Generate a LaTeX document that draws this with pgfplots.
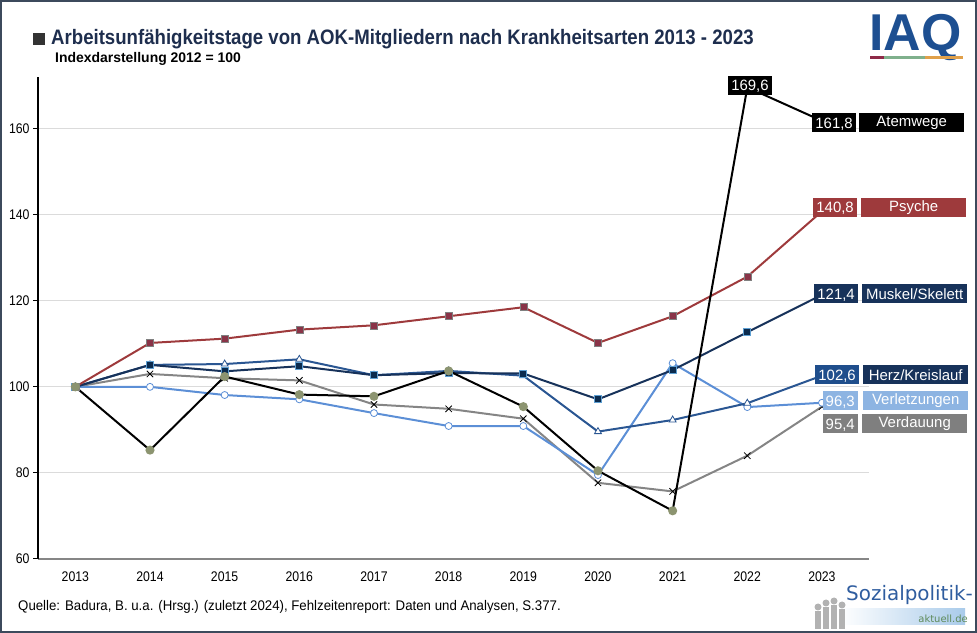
\documentclass[border=0pt]{standalone}
\usepackage{fontspec}
\setmainfont{Liberation Sans}
\newfontfamily\narrowfont[FakeStretch=0.88]{Liberation Sans}
\newfontfamily\srcfont[FakeStretch=0.95]{Liberation Sans}
\newfontfamily\titlefont[FakeStretch=0.89]{Liberation Sans}
\newfontfamily\logofont{DejaVu Sans}
\usepackage{pgfplots}
\pgfplotsset{compat=1.18}
\definecolor{cAtem}{HTML}{000000}
\definecolor{cAtemMk}{HTML}{8C9470}
\definecolor{cPsy}{HTML}{9E3A3C}
\definecolor{cPsyMk}{HTML}{8A3448}
\definecolor{cMus}{HTML}{17325A}
\definecolor{cMusMk}{HTML}{0B2B4E}
\definecolor{cMusBd}{HTML}{5E9FD2}
\definecolor{cHerz}{HTML}{2A5692}
\definecolor{cHerzBox}{HTML}{1F4E8C}
\definecolor{cVerl}{HTML}{5C8FD6}
\definecolor{cVerlBox}{HTML}{8DB4E2}
\definecolor{cVerd}{HTML}{858585}
\definecolor{cVerdBox}{HTML}{7F7F7F}
\definecolor{cTitle}{HTML}{1E2E4E}
\definecolor{cFrame}{HTML}{3C4A5C}
\definecolor{cIAQ}{HTML}{1D4F91}
\definecolor{lgA}{HTML}{8E2A48}
\definecolor{lgB}{HTML}{7FB08C}
\definecolor{lgC}{HTML}{E0A04A}
\definecolor{cSoz}{HTML}{2F5D9F}
\definecolor{cAkt}{HTML}{5E8A5A}
\definecolor{cShade}{HTML}{A9CBEA}
\begin{document}
\begin{tikzpicture}[x=1bp,y=1bp,
  vbox/.style={fill=#1, text=white, inner sep=0pt, minimum height=19bp, font=\fontsize{15}{17}\selectfont, text depth=0pt, inner xsep=3bp},
  nbox/.style={fill=#1, text=white, inner sep=0pt, minimum height=19bp, minimum width=105bp, font=\fontsize{15}{17}\selectfont, anchor=west}]
\path[use as bounding box] (0,0) rectangle (977,633);
\begin{axis}[
  at={(38bp,74bp)}, anchor=south west,
  scale only axis, width=831bp, height=482bp,
  xmin=2012.5, xmax=2023.63, ymin=60, ymax=172,
  xtick={2013,2014,...,2023}, ytick={60,80,...,160},
  axis x line*=bottom, axis y line*=left,
  x axis line style={draw=gray!95, line width=2bp, -},
  y axis line style={draw=black, line width=1.2bp, -},
  ymajorgrids, grid style={draw=gray!28, line width=1bp},
  tick align=outside, major tick length=5bp,
  xtick style={draw=none}, ytick style={draw=black, line width=1bp},
  /pgf/number format/assume math mode=true,
  /pgf/number format/1000 sep={},
  ticklabel style={font=\narrowfont\fontsize{14}{16}\selectfont, text=black},
  xticklabel style={yshift=-4bp},
  every axis plot/.append style={line width=2bp},
]
\addplot[color=cVerd, mark=x, mark size=4.5bp, mark options={draw=black, line width=0.8bp}] coordinates {
(2013,100)(2014,103.0)(2015,102.0)(2016,101.5)(2017,95.9)(2018,94.9)(2019,92.6)(2020,77.7)(2021,75.7)(2022,84.0)(2023,95.4)};
\addplot[color=cVerl, mark=*, mark size=3.5bp, mark options={fill=white, draw=cVerl, line width=0.8bp}] coordinates {
(2013,100)(2014,100)(2015,98.1)(2016,97.1)(2017,93.9)(2018,90.9)(2019,90.9)(2020,79.5)(2021,105.5)(2022,95.3)(2023,96.3)};
\addplot[color=cHerz, mark=triangle*, mark size=4bp, mark options={fill=white, draw=cHerz, line width=0.8bp}] coordinates {
(2013,100)(2014,105.1)(2015,105.3)(2016,106.4)(2017,102.7)(2018,103.7)(2019,102.6)(2020,89.6)(2021,92.3)(2022,96.2)(2023,102.6)};
\addplot[color=cMus, mark=square*, mark size=3.5bp, mark options={fill=cMusMk, draw=cMusBd, line width=0.8bp}] coordinates {
(2013,100)(2014,105.1)(2015,103.6)(2016,104.8)(2017,102.7)(2018,103.2)(2019,103.1)(2020,97.1)(2021,103.9)(2022,112.7)(2023,121.4)};
\addplot[color=cPsy, mark=square*, mark size=3.5bp, mark options={fill=cPsyMk, draw=gray, line width=0.6bp}] coordinates {
(2013,100)(2014,110.2)(2015,111.2)(2016,113.3)(2017,114.3)(2018,116.4)(2019,118.5)(2020,110.2)(2021,116.4)(2022,125.6)(2023,140.8)};
\addplot[color=cAtem, mark=*, mark size=3.5bp, mark options={fill=cAtemMk, draw=cAtemMk}] coordinates {
(2013,100)(2014,85.3)(2015,102.4)(2016,98.2)(2017,97.8)(2018,103.7)(2019,95.4)(2020,80.5)(2021,71.2)(2022,169.6)(2023,161.8)};
\end{axis}
% frame
\draw[cFrame, line width=2.2bp] (1.1,1.1) rectangle (975.9,631.9);
% title
\fill[black!80] (33,588) rectangle (45,600);
\node[anchor=west, inner sep=0pt, text=cTitle, font=\titlefont\bfseries\fontsize{21}{24}\selectfont] at (51,594) {Arbeitsunfähigkeitstage von AOK-Mitgliedern nach Krankheitsarten 2013 - 2023};
\node[anchor=west, inner sep=0pt, text=black, font=\bfseries\fontsize{14}{16}\selectfont] at (55,574) {Indexdarstellung 2012 = 100};
% value labels
\node[vbox=black] at (750,547.5) {169,6};
\node[vbox=black, anchor=east] at (856,510) {161,8};
\node[nbox=black] at (859,510) {Atemwege};
\node[vbox=cPsy, anchor=east] at (857,425.5) {140,8};
\node[nbox=cPsy] at (861,425.5) {Psyche};
\node[vbox=cMus, anchor=east] at (858,339) {121,4};
\node[nbox=cMus] at (862,339) {Muskel/Skelett};
\node[vbox=cHerzBox, anchor=east] at (859,258) {102,6};
\node[nbox=cMus] at (863,258) {Herz/Kreislauf};
\node[vbox=cVerlBox, anchor=east] at (858,232) {96,3};
\node[nbox=cVerlBox] at (863,232) {Verletzungen};
\node[vbox=cVerdBox, anchor=east] at (858,209) {95,4};
\node[nbox=cVerdBox] at (862,209) {Verdauung};
% source
\node[anchor=west, inner sep=0pt, font=\srcfont\fontsize{14}{16}\selectfont] at (18,26) {Quelle: Badura, B. u.a. (Hrsg.) (zuletzt 2024), Fehlzeitenreport: Daten und Analysen, S.377.};
% IAQ logo
\node[anchor=base west, inner sep=0pt, text=cIAQ, font=\bfseries\fontsize{52}{52}\selectfont] at (869,582) {IAQ};
\fill[lgA] (870,573.5) rectangle (884,576.5);
\fill[lgB] (884,573.5) rectangle (925,576.5);
\fill[lgC] (925,573.5) rectangle (963,576.5);
% Sozialpolitik logo
\shade[left color=white, right color=cShade] (840,8) rectangle (965,24);
\foreach \xx/\hh in {815/30,823/34,831/36,839/32}{
  \fill[gray!60] (\xx,4) rectangle (\xx+6,\hh-8);
  \fill[gray!60] (\xx+3,\hh-4) circle (3.5);
}
\node[anchor=south west, inner sep=0pt, text=cSoz, font=\logofont\fontsize{20}{22}\selectfont] at (846,28) {Sozialpolitik-};
\node[anchor=south east, inner sep=0pt, text=cAkt, font=\logofont\fontsize{10}{12}\selectfont] at (968,10) {aktuell.de};
\end{tikzpicture}
\end{document}
